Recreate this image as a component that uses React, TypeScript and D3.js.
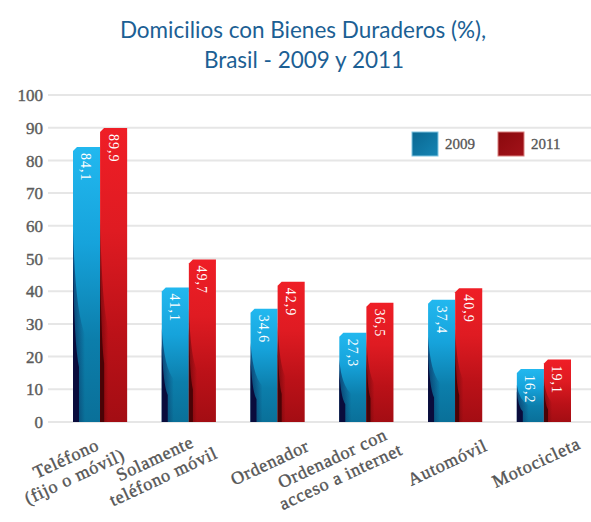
import React from 'react';
import * as d3 from 'd3';

// chart data
const categories = [
  ['Teléfono', '(fijo o móvil)'],
  ['Solamente', 'teléfono móvil'],
  ['Ordenador'],
  ['Ordenador con', 'acceso a internet'],
  ['Automóvil'],
  ['Motocicleta'],
];
const seriesNames = ['2009', '2011'];
const values2009 = [84.1, 41.1, 34.6, 27.3, 37.4, 16.2];
const values2011 = [89.9, 49.7, 42.9, 36.5, 40.9, 19.1];
const yTicks = [0, 10, 20, 30, 40, 50, 60, 70, 80, 90, 100];

const width = 591;
const height = 522;
const serif = "'Liberation Serif', serif";

const App = () => {
  const keys = categories.map((c) => c.join(' '));

  const x = d3.scaleBand().domain(keys).range([73, 571]).paddingInner(0.39).paddingOuter(0);
  const xInner = d3.scaleBand().domain(seriesNames).range([0, x.bandwidth()]).padding(0);
  const y = d3.scaleLinear().domain([0, 100]).range([422, 95]);

  const fmt = (v) => v.toFixed(1).replace('.', ',');

  // bar outline with a small bevel on the top-left corner
  const barPath = (x0, w, v) => {
    const top = y(v);
    const base = y(0);
    const b = 4;
    const p = d3.path();
    p.moveTo(x0, top + b);
    p.lineTo(x0 + b, top);
    p.lineTo(x0 + w, top);
    p.lineTo(x0 + w, base);
    p.lineTo(x0, base);
    p.closePath();
    return p.toString();
  };

  // dark side strip growing from mid bar to the base
  const shadePath = (x0, sw, v, start) => {
    const top = y(v);
    const base = y(0);
    const h = base - top;
    const p = d3.path();
    p.moveTo(x0, top + h * start);
    p.quadraticCurveTo(x0 + sw * 0.2, top + h * (start + 0.3), x0 + sw, top + h * (start + 0.38));
    p.lineTo(x0 + sw, base);
    p.lineTo(x0, base);
    p.closePath();
    return p.toString();
  };

  const series = [
    { name: seriesNames[0], values: values2009, fill: 'url(#g2009)', soft: 'url(#s2009)', dark: '#0a0c3c', side: 0.22 },
    { name: seriesNames[1], values: values2011, fill: 'url(#g2011)', soft: 'url(#s2011)', dark: '#4a0306', side: 0.15 },
  ];

  return (
    <svg width={width} height={height} style={{ position: 'absolute', left: 0, top: 0, background: '#fff' }}>
      <defs>
        <linearGradient id="g2009" x1="0" y1="0" x2="0" y2="1">
          <stop offset="0" stopColor="#22b8ef" />
          <stop offset="0.35" stopColor="#16a3db" />
          <stop offset="0.7" stopColor="#0c7eab" />
          <stop offset="1" stopColor="#0a7099" />
        </linearGradient>
        <linearGradient id="g2011" x1="0" y1="0" x2="0" y2="1">
          <stop offset="0" stopColor="#ef1e26" />
          <stop offset="0.35" stopColor="#df1b22" />
          <stop offset="0.7" stopColor="#bb1118" />
          <stop offset="1" stopColor="#a30d13" />
        </linearGradient>
        <linearGradient id="s2009" x1="0" y1="0" x2="1" y2="0">
          <stop offset="0" stopColor="#0a0c3c" stopOpacity="0.55" />
          <stop offset="1" stopColor="#0a0c3c" stopOpacity="0" />
        </linearGradient>
        <linearGradient id="s2011" x1="0" y1="0" x2="1" y2="0">
          <stop offset="0" stopColor="#3d0205" stopOpacity="0.5" />
          <stop offset="1" stopColor="#3d0205" stopOpacity="0" />
        </linearGradient>
        <linearGradient id="l2009" x1="0" y1="0" x2="1" y2="1">
          <stop offset="0" stopColor="#0a6791" />
          <stop offset="1" stopColor="#1585b4" />
        </linearGradient>
        <linearGradient id="l2011" x1="0" y1="0" x2="1" y2="1">
          <stop offset="0" stopColor="#8a090d" />
          <stop offset="1" stopColor="#a3121a" />
        </linearGradient>
      </defs>

      {/* title */}
      <text x={303} y={38} textAnchor="middle" fill="#1c5f94" fontFamily="Lato, sans-serif" fontSize={22.5}>
        Domicilios con Bienes Duraderos (%),
      </text>
      <text x={304} y={68} textAnchor="middle" fill="#1c5f94" fontFamily="Lato, sans-serif" fontSize={22.5}>
        Brasil - 2009 y 2011
      </text>

      {/* gridlines and y labels */}
      {yTicks.map((t) => (
        <g key={t}>
          <line x1={48} x2={width} y1={y(t)} y2={y(t)} stroke="#e6e6e6" strokeWidth={2} />
          <text
            x={43}
            y={y(t)}
            dy="0.36em"
            textAnchor="end"
            fill="#5c5c5c"
            stroke="#5c5c5c"
            strokeWidth={0.4}
            fontFamily={serif}
            fontSize={17}
          >
            {t}
          </text>
        </g>
      ))}

      {/* legend */}
      <g fontFamily={serif} fontSize={15} fill="#555" stroke="#555" strokeWidth={0.3}>
        <rect x={412} y={132} width={26} height={24} fill="url(#l2009)" stroke="#7fc4e0" strokeWidth={1} />
        <text x={445} y={144} dy="0.36em">{seriesNames[0]}</text>
        <rect x={498} y={132} width={26} height={24} fill="url(#l2011)" stroke="#d9807f" strokeWidth={1} />
        <text x={531} y={144} dy="0.36em">{seriesNames[1]}</text>
      </g>

      {/* bars */}
      {keys.map((k, i) => (
        <g key={k} transform={`translate(${x(k)},0)`}>
          {series.map((s) => {
            const bx = xInner(s.name);
            const bw = xInner.bandwidth();
            const v = s.values[i];
            const cx = bx + bw / 2;
            return (
              <g key={s.name}>
                <path d={barPath(bx, bw, v)} fill={s.fill} />
                <path d={shadePath(bx, bw * s.side * 2, v, 0.3)} fill={s.soft} />
                <path d={shadePath(bx, bw * s.side, v, 0.42)} fill={s.dark} />
                <text
                  transform={`translate(${cx},${y(v) + 6}) rotate(90)`}
                  dy="0.36em"
                  fill="#fff"
                  fontFamily={serif}
                  fontSize={14}
                  letterSpacing={1}
                >
                  {fmt(v)}
                </text>
              </g>
            );
          })}
        </g>
      ))}

      {/* x labels, rotated */}
      {categories.map((lines, i) => {
        const k = keys[i];
        const cx = x(k) + x.bandwidth() / 2;
        const two = lines.length === 2;
        const lx = cx + (two ? -30 : -8);
        const ly = y(0) + (two ? 45 : 40);
        const lh = 20;
        return (
          <text
            key={k}
            transform={`translate(${lx},${ly}) rotate(-25)`}
            textAnchor="middle"
            fill="#555"
            stroke="#555"
            strokeWidth={0.4}
            fontFamily={serif}
            fontSize={18}
            letterSpacing={0.8}
          >
            {lines.map((l, j) => (
              <tspan key={j} x={0} y={(j - (lines.length - 1) / 2) * lh} dy="0.36em">
                {l}
              </tspan>
            ))}
          </text>
        );
      })}
    </svg>
  );
};

export default App;
